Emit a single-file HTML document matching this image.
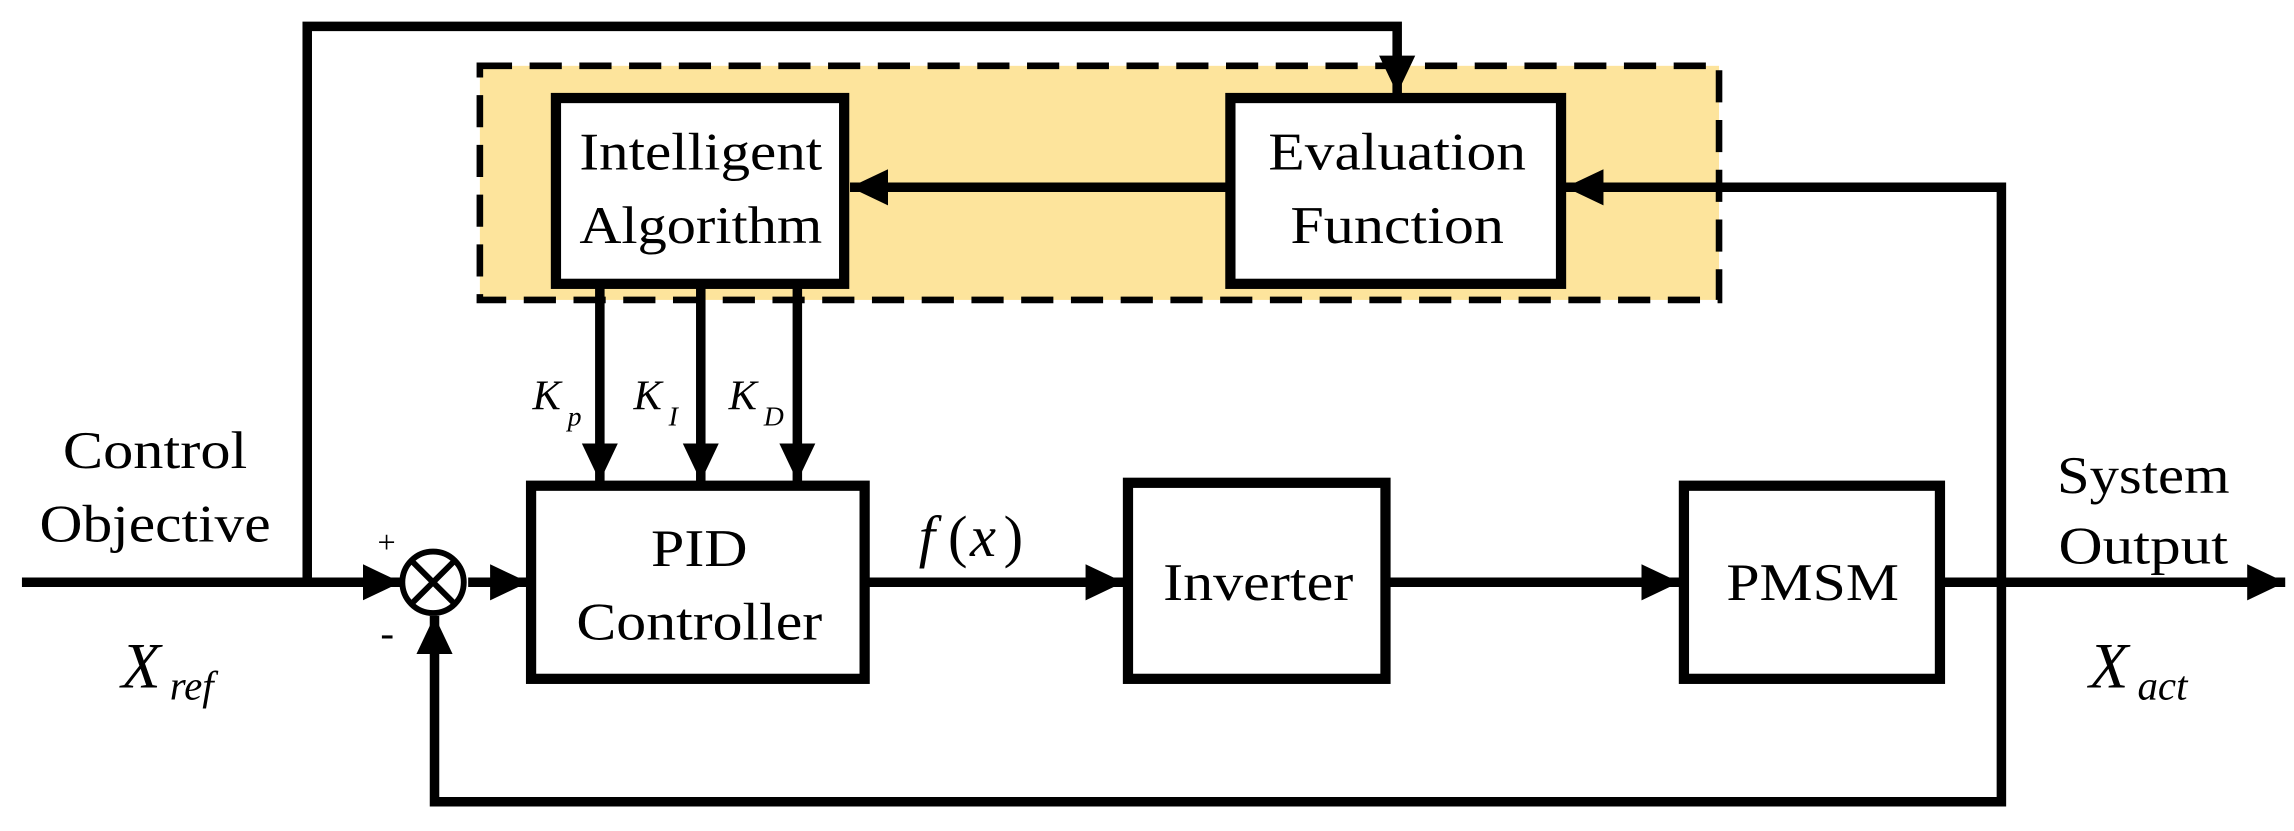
<!DOCTYPE html>
<html><head><meta charset="utf-8"><style>
html,body{margin:0;padding:0;background:#fff;}
svg{display:block;}
</style></head><body>
<svg width="2294" height="831" viewBox="0 0 1568 568" xmlns="http://www.w3.org/2000/svg" font-family="Liberation Serif, Times New Roman, serif">
<defs>
<marker id="a" markerWidth="4.2" markerHeight="4" refX="4" refY="2" orient="auto" markerUnits="strokeWidth">
<path d="M0,0.1 L4,2 L0,3.9 Z" fill="#000"/>
</marker>
</defs>
<rect x="328" y="45" width="847" height="160" fill="#fde49c" stroke="#000" stroke-width="4.5" stroke-dasharray="22,12"/>
<g fill="#fff" stroke="#000" stroke-width="7">
<rect x="380" y="67" width="197" height="127"/>
<rect x="841" y="67" width="226" height="127"/>
<rect x="363" y="332" width="228" height="132"/>
<rect x="771" y="330" width="176" height="134"/>
<rect x="1151" y="332" width="175" height="132"/>
</g>
<g fill="none" stroke="#000" stroke-width="6.5">
<polyline points="210,398 210,18 955,18 955,64" marker-end="url(#a)"/>
<line x1="838" y1="128" x2="581" y2="128" marker-end="url(#a)"/>
<polyline points="1368,398 1368,128 1070,128" marker-end="url(#a)"/>
<line x1="410" y1="197" x2="410" y2="329" marker-end="url(#a)"/>
<line x1="479" y1="197" x2="479" y2="329" marker-end="url(#a)"/>
<line x1="545" y1="197" x2="545" y2="329" marker-end="url(#a)"/>
<line x1="15" y1="398" x2="274" y2="398" marker-end="url(#a)"/>
<line x1="320" y1="398" x2="361" y2="398" marker-end="url(#a)"/>
<line x1="594" y1="398" x2="768" y2="398" marker-end="url(#a)"/>
<line x1="950" y1="398" x2="1148" y2="398" marker-end="url(#a)"/>
<line x1="1329" y1="398" x2="1562" y2="398" marker-end="url(#a)"/>
<polyline points="1368,398 1368,548 297,548 297,421" marker-end="url(#a)"/>
</g>
<circle cx="296" cy="398" r="21" fill="#fff" stroke="#000" stroke-width="4"/>
<g stroke="#000" stroke-width="4">
<line x1="281" y1="383" x2="311" y2="413"/><line x1="311" y1="383" x2="281" y2="413"/>
</g>
<g font-size="36" text-anchor="middle" fill="#000">
<text x="479" y="116" textLength="166" lengthAdjust="spacingAndGlyphs">Intelligent</text>
<text x="479" y="166" textLength="166" lengthAdjust="spacingAndGlyphs">Algorithm</text>
<text x="955" y="116" textLength="176" lengthAdjust="spacingAndGlyphs">Evaluation</text>
<text x="955" y="166" textLength="146" lengthAdjust="spacingAndGlyphs">Function</text>
<text x="478" y="387" textLength="66" lengthAdjust="spacingAndGlyphs">PID</text>
<text x="478" y="437" textLength="168" lengthAdjust="spacingAndGlyphs">Controller</text>
<text x="860" y="410" textLength="130" lengthAdjust="spacingAndGlyphs">Inverter</text>
<text x="1239" y="410" textLength="118" lengthAdjust="spacingAndGlyphs">PMSM</text>
<text x="106" y="320" textLength="126" lengthAdjust="spacingAndGlyphs">Control</text>
<text x="106" y="370" textLength="158" lengthAdjust="spacingAndGlyphs">Objective</text>
<text x="1465" y="337" textLength="118" lengthAdjust="spacingAndGlyphs">System</text>
<text x="1465" y="385" textLength="116" lengthAdjust="spacingAndGlyphs">Output</text>
</g>
<g font-style="italic" fill="#000">
<text x="83" y="470" font-size="44">X</text><text x="116" y="478" font-size="28">ref</text>
<text x="1428" y="470" font-size="44">X</text><text x="1461" y="478" font-size="28">act</text>
<text x="628" y="380" font-size="40">f</text>
<text x="648" y="380" font-size="40" font-style="normal">(</text>
<text x="663" y="380" font-size="40">x</text>
<text x="686" y="380" font-size="40" font-style="normal">)</text>
<text x="364" y="280" font-size="29">K</text><text x="388" y="291" font-size="19">p</text>
<text x="433" y="280" font-size="29">K</text><text x="457" y="291" font-size="19">I</text>
<text x="498" y="280" font-size="29">K</text><text x="522" y="291" font-size="19">D</text>
</g>
<text x="258" y="378" font-size="22" fill="#000">+</text>
<text x="260" y="442" font-size="28" fill="#000">-</text>
</svg>
</body></html>
